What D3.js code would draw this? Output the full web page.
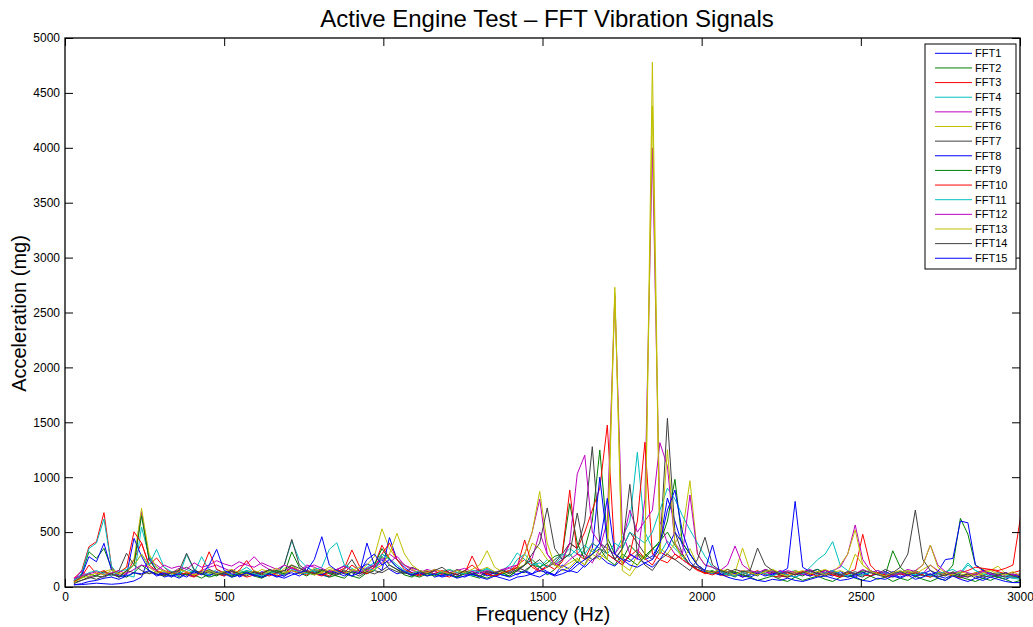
<!DOCTYPE html>
<html><head><meta charset="utf-8">
<script src="https://cdn.jsdelivr.net/npm/d3@7/dist/d3.min.js"></script>
<style>
body{margin:0;background:#fff;}
text{font-family:"Liberation Sans",Arial,Helvetica,sans-serif;fill:#000;}
</style></head>
<body><svg id="chart" width="1033" height="627"></svg>
<script>
// FFT bin frequencies (Hz): first bin and bin width
const binStart = 28, binWidth = 23.6, binCount = 127;
const freqs = d3.range(binCount).map(i => binStart + i * binWidth);

const seriesNames = ["FFT1","FFT2","FFT3","FFT4","FFT5","FFT6","FFT7","FFT8","FFT9","FFT10","FFT11","FFT12","FFT13","FFT14","FFT15"];
const xTicks = [0,500,1000,1500,2000,2500,3000];
const yTicks = [0,500,1000,1500,2000,2500,3000,3500,4000,4500,5000];

const fft1 = [20,22,28,35,30,25,30,40,55,90, 270,150,90,110,80,120,95,140,110,130, 100,160,90,120,140,85,110,130,95,150, 120,180,140,110,90,160,130,100,170,210, 180,250,160,120,140,100,130,150,90,110, 120,90,140,110,100,130,95,120,140,110, 150,120,180,140,110,200,160,230,180,250, 280,220,190,260,230,300,250,280,400,810, 600,380,230,160,140,120,150,110,130,100, 90,120,140,110,130,170,780,180,140,160, 120,100,140,110,90,130,150,120,100,140, 110,130,90,120,150,100,80,110,90,120, 100,80,110,90,70,100,80];
const fft2 = [60,110,321,261,352,170,110,90,130,200, 150,120,100,140,90,130,110,80,120,100, 140,90,110,130,100,80,120,150,110,200, 130,100,150,120,90,110,140,100,80,130, 150,280,200,160,110,90,130,100,120,140, 110,90,130,100,80,120,140,110,100,150, 130,200,180,110,160,250,300,220,350,600, 1248,450,300,250,380,310,260,340,420,500, 380,280,200,160,130,150,110,120,90,140, 130,100,160,140,110,90,120,100,140,160, 130,150,110,90,120,140,100,130,110,330, 180,120,150,110,90,130,120,200,625,480, 200,160,110,90,130,80,100];
const fft3 = [80,140,367,413,677,185,94,120,250,400, 200,264,180,120,140,110,90,130,160,120, 100,140,120,90,110,130,150,100,120,180, 140,110,160,130,100,140,170,337,190,150, 200,380,260,180,140,120,100,130,150,110, 90,130,120,282,140,110,100,130,150,200, 250,180,140,200,160,230,400,350,500,700, 900,1475,300,220,280,340,260,200,320,280, 250,300,200,160,120,140,110,100,130,90, 120,150,110,130,100,90,140,120,100,130, 150,110,90,130,160,480,200,130,110,90, 120,140,100,130,110,90,120,100,80,110, 130,150,160,140,120,130,150];
const fft4 = [70,120,350,400,620,190,100,110,90,546, 280,180,140,120,100,297,150,130,110,160, 120,100,140,180,130,110,150,120,200,420, 250,180,140,160,120,150,200,170,130,180, 220,300,260,200,150,130,110,140,120,100, 130,150,120,100,140,160,130,110,150,250, 300,220,180,250,200,280,350,300,380,320, 400,350,300,450,600,1227,500,350,300,420, 350,280,200,180,150,120,140,110,100,130, 110,140,120,100,90,130,150,120,180,250, 300,413,200,150,120,100,140,110,130,90, 120,150,110,130,100,90,140,160,120,200, 150,110,130,100,90,80,70];
const fft5 = [60,150,90,110,130,120,100,140,200,686, 250,200,150,130,170,140,120,150,180,200, 170,140,190,210,276,200,160,130,150,170, 140,200,180,150,130,160,190,150,120,140, 180,220,300,250,200,150,130,160,140,120, 150,130,110,140,160,130,120,150,170,140, 200,260,500,300,220,180,250,300,280,220, 350,600,2650,500,300,250,800,4000,600,400, 300,250,200,180,150,130,160,140,120,150, 130,110,140,120,150,130,110,140,160,120, 130,150,180,300,565,250,150,120,140,110, 130,160,140,120,200,150,110,130,100,90, 120,140,110,130,100,90,110];
const fft6 = [50,90,120,100,140,160,130,180,250,717, 300,180,140,120,160,130,110,150,130,120, 140,110,150,130,120,160,140,110,170,200, 150,130,170,140,180,150,120,160,140,200, 280,530,350,250,200,160,130,150,120,140, 160,130,140,120,150,180,140,120,150,170, 200,400,350,250,200,180,220,260,200,300, 250,350,2730,200,150,300,250,4780,350,300, 400,500,968,300,200,180,140,160,130,355, 150,120,140,160,130,110,150,130,120,140, 160,130,200,300,520,200,150,120,140,110, 130,150,120,160,200,140,110,130,120,100, 130,110,150,190,120,100,90];
const fft7 = [40,60,80,100,90,120,150,307,200,150, 120,140,110,130,150,180,140,120,160,130, 110,140,120,150,130,110,160,140,200,434, 200,150,130,110,140,120,160,250,140,120, 150,130,170,140,120,180,150,130,110,140, 120,160,130,110,150,140,120,160,130,180, 150,200,250,180,220,300,400,350,600,1278, 400,300,250,350,500,400,300,250,350,1536, 500,300,200,180,150,140,120,160,130,110, 140,120,150,130,110,90,120,140,110,130, 150,120,100,130,110,90,140,120,160,130, 180,300,701,250,150,120,100,140,110,90, 120,100,130,110,90,120,100];
const fft8 = [40,100,276,230,398,155,90,110,443,280, 150,100,120,90,130,110,150,120,100,140, 120,90,110,130,100,140,120,90,110,130, 100,140,120,110,150,130,100,140,120,400, 200,150,450,250,180,130,110,140,120,100, 130,110,90,120,140,100,130,110,90,120, 140,110,90,130,100,120,150,130,200,350, 1000,400,250,200,300,260,220,180,250,350, 500,400,300,200,150,130,110,140,120,90, 110,130,100,120,140,110,90,120,100,130, 110,140,120,90,110,130,100,120,140,110, 90,120,100,130,110,140,250,260,600,585, 200,150,120,100,130,110,90];
const fft9 = [50,80,120,100,140,120,90,150,200,650, 250,150,120,100,130,110,140,120,90,110, 130,100,120,140,110,90,130,150,120,320, 180,130,110,150,120,100,80,140,120,160, 200,350,250,180,130,110,90,120,100,130, 110,90,120,140,100,80,110,130,100,150, 200,250,180,220,280,300,760,400,250,300, 350,250,200,300,250,200,280,350,400,600, 981,400,300,200,150,130,160,120,140,110, 90,60,80,100,70,50,90,60,80,100, 70,50,90,110,80,60,100,70,90,50, 80,60,100,70,50,80,60,110,90,70, 50,80,60,90,70,40,60];
const fft10 = [50,90,200,120,150,100,130,180,503,400, 200,150,120,140,110,130,100,150,321,160, 130,110,150,241,140,120,100,130,110,150, 130,150,120,100,140,160,130,200,150,120, 180,300,400,250,160,130,110,140,120,150, 130,110,150,200,140,120,100,130,150,180, 428,200,150,180,250,300,883,300,250,400, 350,300,250,200,300,600,1318,300,250,220, 300,250,200,150,130,110,140,120,100,130, 110,140,120,100,90,130,110,140,120,100, 130,110,90,120,140,110,100,130,90,110, 120,100,130,110,90,120,140,110,130,150, 180,170,160,150,170,200,637];
const fft11 = [60,100,130,150,120,100,140,160,200,300, 200,343,180,140,120,160,130,276,150,120, 140,110,130,150,120,100,140,130,110,160, 140,120,160,180,343,403,200,150,130,170, 150,300,250,180,140,120,150,130,110,140, 160,130,120,150,140,170,130,150,200,310, 250,200,220,180,250,300,280,350,300,400, 350,300,400,350,500,450,400,500,700,900, 800,650,520,400,280,180,140,120,100,130, 110,140,120,100,130,110,90,120,140,110, 130,150,120,100,140,110,130,150,120,100, 140,120,110,130,100,120,140,110,130,220, 150,120,100,130,110,90,80];
const fft12 = [80,100,120,140,110,130,150,120,160,200, 180,150,200,170,190,160,220,180,200,240, 210,190,230,200,180,220,190,160,200,170, 150,180,200,170,140,160,190,150,130,170, 200,260,220,280,200,170,150,130,160,140, 120,150,170,140,120,150,130,160,180,200, 300,500,800,300,200,250,400,1030,1200,500, 400,350,300,400,700,500,600,700,1315,1100, 400,300,838,300,200,180,150,200,373,200, 150,130,160,140,120,150,130,110,140,120, 150,130,110,140,120,160,130,150,120,100, 130,110,150,200,382,200,140,120,150,130, 110,140,120,100,130,110,120];
const fft13 = [40,80,100,130,110,150,120,140,200,300, 180,130,150,120,160,140,110,130,150,120, 140,160,130,110,150,120,140,170,130,150, 120,140,110,130,160,140,120,150,180,130, 160,200,300,489,300,200,150,130,160,140, 120,150,130,160,200,330,180,140,120,160, 300,500,870,400,200,150,180,250,200,350, 300,250,2680,150,100,200,300,4380,300,1250, 400,250,350,200,150,130,160,140,110,150, 130,110,140,160,120,100,130,150,120,140, 110,130,150,120,300,200,140,120,100,130, 150,120,140,200,382,180,130,110,140,120, 100,130,150,120,110,140,100];
const fft14 = [30,60,90,70,100,120,90,150,130,110, 140,120,100,130,150,307,160,120,140,110, 130,150,120,100,140,120,160,130,150,200, 170,140,120,160,130,110,150,130,100,140, 120,150,200,160,130,110,140,120,150,180, 130,110,150,120,100,140,130,150,120,160, 200,300,400,720,350,250,300,674,300,250, 300,400,250,350,935,300,200,150,250,300, 250,200,150,250,453,200,150,130,160,140, 150,355,200,150,120,140,110,130,150,120, 100,130,110,140,120,150,130,110,90,120, 140,110,130,100,120,90,110,130,100,120, 80,100,90,110,130,100,80];
const fft15 = [20,30,50,60,80,90,70,100,130,120, 150,110,130,100,120,90,140,110,200,343, 150,120,100,130,110,90,120,100,80,110, 130,150,250,458,200,150,120,100,130,250, 300,200,250,180,140,110,130,100,120,90, 110,80,100,120,90,70,100,80,60,90, 100,120,150,130,110,160,140,200,250,300, 400,808,300,250,200,180,220,250,400,700, 883,500,300,200,150,382,120,90,70,60, 80,60,50,70,60,80,60,50,70,90, 100,80,60,70,90,60,50,80,70,100, 80,110,70,90,120,80,60,100,70,50, 80,60,90,70,50,40,40];

const seriesValues = [fft1,fft2,fft3,fft4,fft5,fft6,fft7,fft8,fft9,fft10,fft11,fft12,fft13,fft14,fft15];
const seriesColors = ["#0000ff","#008000","#ff0000","#00bfbf","#bf00bf","#bfbf00","#404040",
                      "#0000ff","#008000","#ff0000","#00bfbf","#bf00bf","#bfbf00","#404040","#0000ff"];

const svg = d3.select("#chart");
const L = 65, R = 1020, T = 38, B = 587;
const x = d3.scaleLinear().domain([0,3000]).range([L,R]);
const y = d3.scaleLinear().domain([0,5000]).range([B,T]);

svg.append("defs").append("clipPath").attr("id","clip")
  .append("rect").attr("x",L).attr("y",T).attr("width",R-L).attr("height",B-T);

const line = d3.line().x((d,i)=>x(freqs[i])).y(d=>y(d));
const g = svg.append("g").attr("clip-path","url(#clip)");
seriesValues.forEach((vals,k)=>{
  g.append("path").datum(vals).attr("d",line)
    .attr("fill","none").attr("stroke",seriesColors[k]).attr("stroke-width",1)
    .attr("stroke-linejoin","round");
});

// axes
const tk = 8;
const ax = svg.append("g").attr("transform",`translate(0,${B})`)
  .call(d3.axisBottom(x).tickValues(xTicks).tickSize(-tk).tickPadding(5).tickFormat(d3.format("d")));
const ay = svg.append("g").attr("transform",`translate(${L},0)`)
  .call(d3.axisLeft(y).tickValues(yTicks).tickSize(-tk).tickPadding(5).tickFormat(d3.format("d")));
const axT = svg.append("g").attr("transform",`translate(0,${T})`)
  .call(d3.axisTop(x).tickValues(xTicks).tickSize(-tk).tickFormat(""));
const ayR = svg.append("g").attr("transform",`translate(${R},0)`)
  .call(d3.axisRight(y).tickValues(yTicks).tickSize(-tk).tickFormat(""));
[ax,ay,axT,ayR].forEach(a=>{
  a.select(".domain").remove();
  a.selectAll(".tick line").attr("stroke","#000").attr("stroke-width",1);
  a.selectAll("text").style("font-size","12px").attr("fill","#000");
});
svg.append("rect").attr("x",L).attr("y",T).attr("width",R-L).attr("height",B-T)
  .attr("fill","none").attr("stroke","#000").attr("stroke-width",1.3);

// labels
svg.append("text").attr("x",547).attr("y",27).attr("text-anchor","middle")
  .style("font-size","24px").text("Active Engine Test – FFT Vibration Signals");
svg.append("text").attr("x",543).attr("y",621).attr("text-anchor","middle")
  .style("font-size","19.5px").text("Frequency (Hz)");
svg.append("text").attr("transform",`translate(26,${(T+B)/2+1}) rotate(-90)`).attr("text-anchor","middle")
  .style("font-size","20px").text("Acceleration (mg)");

// legend
const lg = svg.append("g");
const lx = 925, ly = 44, lw = 91, rowH = 14.64;
lg.append("rect").attr("x",lx).attr("y",ly).attr("width",lw).attr("height",225)
  .attr("fill","#fff").attr("stroke","#000").attr("stroke-width",1);
seriesNames.forEach((n,k)=>{
  const yy = 53.3 + k*rowH;
  lg.append("line").attr("x1",935).attr("x2",972).attr("y1",yy).attr("y2",yy)
    .attr("stroke",seriesColors[k]).attr("stroke-width",1);
  lg.append("text").attr("x",975).attr("y",yy).attr("dy","0.35em")
    .style("font-size","11px").text(n);
});
</script></body></html>
